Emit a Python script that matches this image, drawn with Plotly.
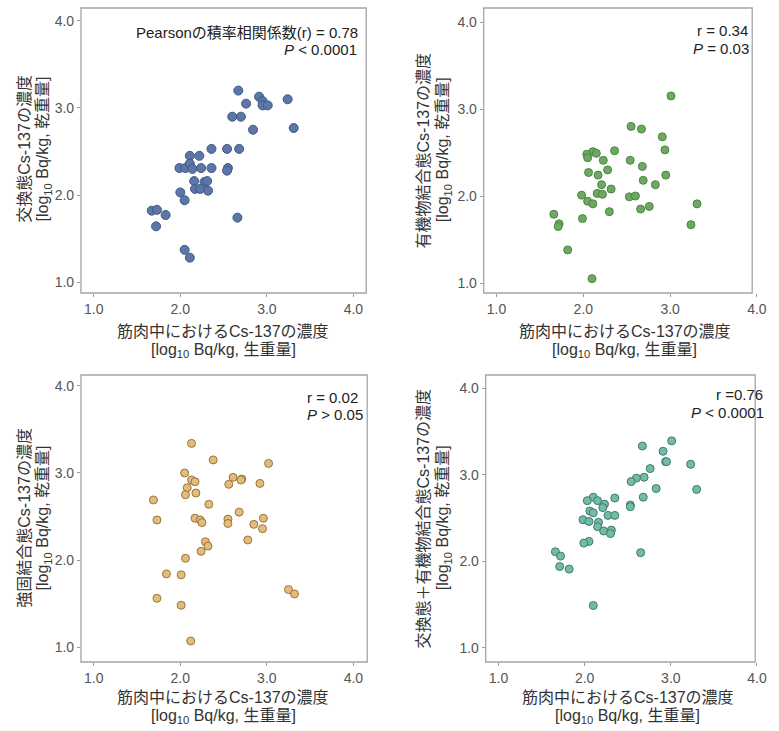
import plotly.graph_objects as go

W, H = 779, 731

# ---------------- data ----------------
ticks = [1.0, 2.0, 3.0, 4.0]
tick_labels = ["1.0", "2.0", "3.0", "4.0"]

muscle_1 = [2.67, 2.91, 2.95, 2.95, 3.01, 3.24, 2.76, 2.60, 2.70, 2.84, 3.31, 2.36, 2.54,
            2.68, 2.11, 2.22, 1.99, 2.06, 2.11, 2.14, 2.24, 2.36, 2.55, 2.54, 2.16, 2.28,
            2.31, 2.17, 2.23, 2.32, 2.00, 2.05, 1.67, 1.73, 1.83, 1.72, 2.66, 2.05, 2.11]
exch = [3.20, 3.13, 3.08, 3.03, 3.03, 3.10, 3.05, 2.90, 2.90, 2.75, 2.77, 2.53, 2.53,
        2.53, 2.45, 2.45, 2.31, 2.31, 2.36, 2.30, 2.31, 2.31, 2.31, 2.28, 2.16, 2.15,
        2.16, 2.07, 2.07, 2.05, 2.03, 1.94, 1.82, 1.83, 1.77, 1.64, 1.74, 1.37, 1.28]

muscle_2 = [3.01, 2.55, 2.67, 2.91, 2.94, 2.36, 2.11, 2.04, 2.15, 2.05, 2.23, 2.54, 2.68,
            2.28, 2.06, 2.17, 2.95, 2.69, 2.83, 2.21, 2.32, 1.98, 2.16, 2.22, 2.53, 2.60,
            2.05, 2.11, 3.31, 2.66, 2.76, 2.30, 1.66, 1.72, 1.71, 1.99, 3.24, 1.82, 2.10]
organic = [3.15, 2.80, 2.77, 2.68, 2.53, 2.52, 2.51, 2.48, 2.49, 2.44, 2.41, 2.41, 2.34,
           2.30, 2.27, 2.24, 2.24, 2.18, 2.13, 2.13, 2.08, 2.01, 2.03, 2.02, 1.99, 2.00,
           1.94, 1.91, 1.91, 1.85, 1.88, 1.82, 1.79, 1.68, 1.65, 1.74, 1.67, 1.38, 1.05]

muscle_3 = [2.13, 2.38, 3.02, 2.05, 2.13, 2.17, 2.61, 2.71, 2.70, 2.56, 2.92, 2.08, 2.18,
            2.06, 1.69, 2.33, 2.68, 1.73, 2.17, 2.23, 2.25, 2.55, 2.55, 2.96, 2.85, 2.95,
            2.78, 2.29, 2.32, 2.24, 2.06, 1.84, 2.01, 3.25, 3.32, 1.73, 2.01, 2.12]
strong = [3.34, 3.15, 3.11, 3.00, 2.92, 2.90, 2.95, 2.93, 2.92, 2.87, 2.88, 2.83, 2.77,
          2.75, 2.69, 2.64, 2.55, 2.46, 2.48, 2.46, 2.43, 2.47, 2.42, 2.48, 2.41, 2.36,
          2.23, 2.21, 2.16, 2.10, 2.02, 1.84, 1.83, 1.66, 1.61, 1.56, 1.48, 1.07]

muscle_4 = [3.01, 2.67, 2.91, 2.94, 2.95, 3.23, 2.76, 2.69, 2.60, 2.54, 2.83, 3.30, 2.10,
            2.03, 2.15, 2.35, 2.68, 2.23, 2.21, 2.53, 2.53, 2.06, 2.10, 2.27, 2.35, 1.98,
            2.05, 2.16, 2.15, 2.22, 2.31, 2.30, 2.05, 1.99, 2.65, 1.66, 1.72, 1.71, 1.82, 2.10]
exch_org = [3.39, 3.33, 3.27, 3.15, 3.15, 3.12, 3.07, 2.97, 2.96, 2.92, 2.84, 2.83, 2.74,
            2.70, 2.70, 2.73, 2.74, 2.66, 2.62, 2.65, 2.63, 2.58, 2.56, 2.53, 2.53, 2.48,
            2.46, 2.45, 2.40, 2.35, 2.36, 2.32, 2.23, 2.21, 2.10, 2.11, 2.06, 1.94, 1.91, 1.49]

x_title = ["筋肉中におけるCs-137の濃度", "[log<sub>10</sub> Bq/kg, 生重量]"]
y_titles = [
    ["交換態Cs-137の濃度", "[log<sub>10</sub> Bq/kg, 乾重量]"],
    ["有機物結合態Cs-137の濃度", "[log<sub>10</sub> Bq/kg, 乾重量]"],
    ["強固結合態Cs-137の濃度", "[log<sub>10</sub> Bq/kg, 乾重量]"],
    ["交換態＋有機物結合態Cs-137の濃度", "[log<sub>10</sub> Bq/kg, 乾重量]"],
]
stats = [
    ["Pearsonの積率相関係数(r) = 0.78", "<i>P</i> < 0.0001"],
    ["r = 0.34", "<i>P</i> = 0.03"],
    ["r = 0.02", "<i>P</i> > 0.05"],
    ["r =0.76", "<i>P</i> < 0.0001"],
]

# ---------------- layout geometry (pixels) ----------------
FONT = "Liberation Sans, Arial, Noto Sans CJK JP, sans-serif"

def fx(px):
    return px / W

def fy(py):
    return 1 - py / H

panels = [
    dict(dx=(82, 371), dy=(8, 293), xr=(0.852, 4.148), yr=(0.874, 4.149), fr=(82, 371),
         fill="#5b76a7", edge="#3f5a86", size=9,
         ytx=(24, 44), yc=149, xtc=226, xty=(331, 350), st_x=(365, 364), st_y=(32, 49)),
    dict(dx=(490, 767), dy=(8, 293), xr=(0.852, 4.003), yr=(0.885, 4.161), fr=(490, 762),
         fill="#6ea862", edge="#4b8543", size=8,
         ytx=(429, 449), yc=150, xtc=633, xty=(331, 350), st_x=(760, 761), st_y=(31, 48)),
    dict(dx=(82, 372), dy=(375, 662), xr=(0.852, 4.160), yr=(0.828, 4.126), fr=(82, 372),
         fill="#e3bb7a", edge="#98763f", size=8,
         ytx=(24, 44), yc=518, xtc=226, xty=(697, 716), st_x=(365, 370), st_y=(397, 414)),
    dict(dx=(492, 767), dy=(375, 662), xr=(0.851, 4.002), yr=(0.838, 4.150), fr=(492, 765),
         fill="#73baa7", edge="#3e7b6c", size=8,
         ytx=(429, 449), yc=518, xtc=636, xty=(697, 716), st_x=(775, 776), st_y=(394, 412)),
]
series = [(muscle_1, exch), (muscle_2, organic), (muscle_3, strong), (muscle_4, exch_org)]

fig = go.Figure()
layout = dict(width=W, height=H, margin=dict(l=0, r=0, t=0, b=0),
              paper_bgcolor="white", plot_bgcolor="white", showlegend=False,
              font=dict(family=FONT, color="#333"))
annotations = []
shapes = []

for i, (p, (xs, ys)) in enumerate(zip(panels, series)):
    n = "" if i == 0 else str(i + 1)
    ax_common = dict(tickmode="array", tickvals=ticks, ticktext=tick_labels,
                     ticks="outside", ticklen=3, tickcolor="#999", tickwidth=1,
                     showgrid=False, zeroline=False, showline=False,
                     tickfont=dict(size=14, color="#555", family=FONT))
    layout["xaxis" + n] = dict(domain=[fx(p["dx"][0]), fx(p["dx"][1])], range=list(p["xr"]),
                               anchor="y" + n, **ax_common)
    layout["yaxis" + n] = dict(domain=[fy(p["dy"][1]), fy(p["dy"][0])], range=list(p["yr"]),
                               anchor="x" + n, **ax_common)
    fig.add_trace(go.Scatter(x=xs, y=ys, mode="markers", xaxis="x" + n, yaxis="y" + n,
                             marker=dict(size=p["size"], color=p["fill"],
                                         line=dict(color=p["edge"], width=1)),
                             hoverinfo="x+y"))
    shapes.append(dict(type="rect", xref="paper", yref="paper",
                       x0=fx(p["fr"][0]), x1=fx(p["fr"][1]),
                       y0=fy(p["dy"][1]), y1=fy(p["dy"][0]),
                       line=dict(color="#a5a5a5", width=1.3), fillcolor="rgba(0,0,0,0)"))
    for k in range(2):
        annotations.append(dict(text=y_titles[i][k], xref="paper", yref="paper",
                                x=fx(p["ytx"][k]), y=fy(p["yc"]), textangle=-90,
                                showarrow=False, xanchor="center", yanchor="middle",
                                font=dict(size=16, color="#333", family=FONT)))
    for k in range(2):
        annotations.append(dict(text=x_title[k], xref="paper", yref="paper",
                                x=fx(p["xtc"]), y=fy(p["xty"][k]),
                                showarrow=False, xanchor="center", yanchor="middle",
                                font=dict(size=16, color="#333", family=FONT)))
    for k in range(2):
        annotations.append(dict(text=stats[i][k], xref="paper", yref="paper",
                                x=fx(p["st_x"][k]), y=fy(p["st_y"][k]),
                                showarrow=False, xanchor="right", yanchor="middle",
                                font=dict(size=15, color="#222", family=FONT)))

layout["annotations"] = annotations
layout["shapes"] = shapes
fig.update_layout(**layout)
fig.write_html("out.html")
